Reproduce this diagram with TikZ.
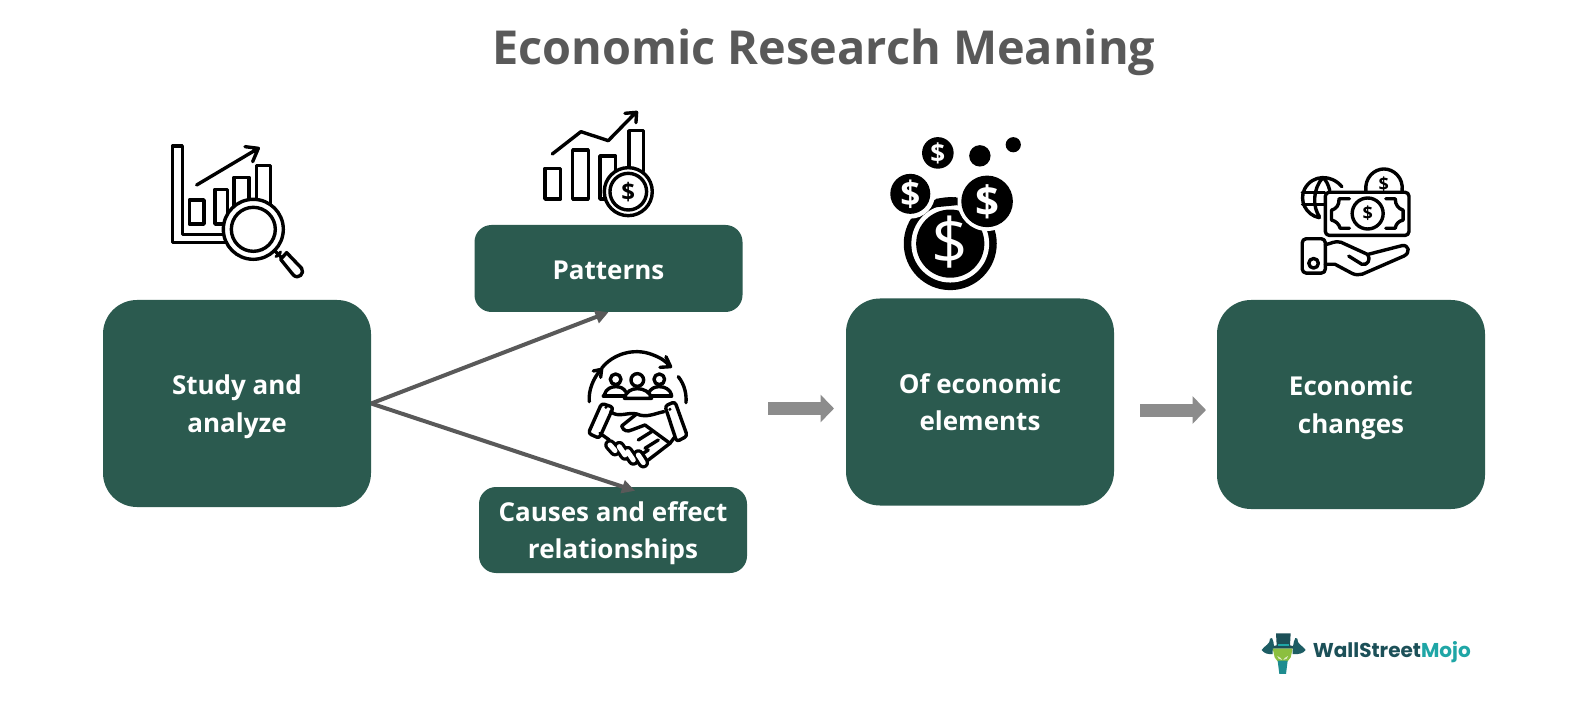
\documentclass[tikz,border=0pt]{standalone}
\usepackage{fontspec}
\setmainfont{Open Sans}
\newfontfamily\logofont{Poppins}
\usetikzlibrary{arrows.meta,calc}
\definecolor{boxgreen}{HTML}{2B5A4F}
\definecolor{titlegrey}{HTML}{595959}
\definecolor{linegrey}{HTML}{595959}
\definecolor{widegrey}{HTML}{8C8C8C}
\definecolor{logodark}{HTML}{1C5058}
\definecolor{logoteal}{HTML}{1FA6A6}
\definecolor{logogreen}{HTML}{8CBF3F}
\tikzset{
  boxtext/.style={text=white,align=center,inner sep=0pt,font=\fontsize{26}{37.5}\selectfont\bfseries,yshift=-3pt},
  bigbox/.style={fill=boxgreen,rounded corners=34pt,minimum width=268pt,minimum height=207pt,inner sep=0pt},
  smallbox/.style={fill=boxgreen,rounded corners=17pt,minimum width=268pt,minimum height=87pt,inner sep=0pt},
  thinarrow/.style={draw=linegrey,line width=4pt,-{Triangle[length=13pt,width=13pt]}},
  widearrow/.style={draw=widegrey,line width=13pt,-{Triangle[length=13.5pt,width=27pt]}},
  ink/.style={draw=black,line width=3.4pt,line cap=round,line join=round},
  zoomA/.style={shift={(150,100)},x=0.3333pt,y=-0.3333pt},
  zoomB/.style={shift={(360,290)},x=0.3333pt,y=-0.3333pt},
  zoomC/.style={shift={(870,121.8)},x=0.3444pt,y=-0.3275pt},
  zoomD/.style={shift={(1240,620)},x=0.3333pt,y=-0.3333pt},
  finger/.style={line width=11.5pt,draw=black,line cap=round},
  fingerin/.style={line width=5pt,draw=white,line cap=round},
  dollar/.style={inner sep=0pt,font=\fontsize{#1}{#1}\selectfont\bfseries}
}
\begin{document}
\begin{tikzpicture}[x=1pt,y=-1pt]
\useasboundingbox (0,0) rectangle (1588,719);
\fill[white] (0,0) rectangle (1588,719);
\node[inner sep=0pt,text=titlegrey,font=\fontsize{46.8}{50}\selectfont\bfseries] (title) at (824,52) {Economic Research Meaning};

\node[bigbox,label={[boxtext]center:Study and\\analyze}] (study) at (237,403.5) {};
\node[smallbox,label={[boxtext,yshift=1.5pt]center:Patterns}] (patterns) at (608.5,268.5) {};
\node[smallbox,minimum height=86pt,label={[boxtext]center:Causes and effect\\relationships}] (causes) at (613,530) {};
\node[bigbox,label={[boxtext,yshift=3pt]center:Of economic\\elements}] (elements) at (980,402) {};
\node[bigbox,minimum height=209pt,label={[boxtext]center:Economic\\changes}] (changes) at (1351,404.5) {};

\coordinate (causestip) at ($(causes.north)+(22,4)$);
\draw[thinarrow] (study.east) -- (patterns.south);
\draw[thinarrow] (study.east) -- (causestip);
\coordinate (w1a) at (768,408.5);
\coordinate (w1b) at (834,408.5);
\coordinate (w2a) at (1140,410);
\coordinate (w2b) at (1206,410);
\draw[widearrow] (w1a) -- (w1b);
\draw[widearrow] (w2a) -- (w2b);

% icon 1 and icon 2
\begin{scope}[zoomA]
  \draw[ink] (68,138) -- (97,138) -- (97,403) -- (240,403) (68,138) -- (68,428) -- (240,428);
  \draw[ink] (118,300) rectangle (162,372);
  \draw[ink] (195,268) rectangle (232,372);
  \draw[ink] (252,232) rectangle (297,320);
  \draw[ink] (320,197) rectangle (362,320);
  \draw[ink] (140,255) -- (325,145) (285,140) -- (325,145) -- (308,185);
  \draw[ink,fill=white] (310,388) circle (90);
  \draw[ink] (310,388) circle (66);
  \draw[ink] (372,450) -- (395,473);
  \draw[ink,line width=3pt] (378,470) -- (392,456);
  \draw[ink,fill=white] (392,478) -- (410,458) -- (455,505) .. controls (465,520) and (445,540) .. (430,525) -- cycle;

  \draw[ink] (1185,205) rectangle (1232,297);
  \draw[ink] (1268,150) rectangle (1315,297);
  \draw[ink] (1350,168) -- (1397,168) -- (1397,297) -- (1350,297) -- cycle;
  \draw[ink] (1437,92) rectangle (1480,215);
  \draw[ink] (1207,162) -- (1293,95) -- (1375,122) -- (1455,40) (1425,40) -- (1460,37) -- (1458,68);
  \draw[ink,fill=white] (1435,275) circle (72);
  \draw[ink] (1435,275) circle (55);
  \node[dollar=24] (d1) at (1435,275) {\$};
\end{scope}

% handshake
\begin{scope}[zoomB]
  \draw[ink] (725,235) .. controls (755,195) and (820,170) .. (880,195) .. controls (905,205) and (920,215) .. (930,230);
  \draw[ink] (918,200) -- (932,230) -- (900,232);
  \draw[ink] (688,335) .. controls (685,300) and (700,265) .. (722,240);
  \draw[ink] (700,243) -- (725,238) -- (722,262);
  \draw[ink] (955,260) .. controls (975,285) and (980,315) .. (978,338);
  \draw[ink] (767,268) circle (16) (832,270) circle (19) (898,268) circle (16);
  \draw[ink] (730,318) -- (935,318);
  \draw[ink] (733,315) .. controls (738,295) and (755,290) .. (768,290) .. controls (780,290) and (792,295) .. (797,305);
  \draw[ink] (868,305) .. controls (875,295) and (885,290) .. (898,290) .. controls (915,290) and (930,298) .. (935,315);
  \draw[ink,fill=white] (793,325) .. controls (797,305) and (815,296) .. (832,296) .. controls (850,296) and (870,305) .. (875,325) -- cycle;
  \draw[ink,rounded corners=3pt] (725,340) -- (760,352) -- (718,445) -- (685,430) -- cycle;
  \draw[ink,rounded corners=3pt] (915,348) -- (945,335) -- (982,438) -- (950,455) -- cycle;
  \fill (738,352) circle (5) (930,358) circle (5);
  \draw[ink] (752,365) .. controls (775,385) and (805,365) .. (830,372) .. controls (860,385) and (885,370) .. (912,365);
  \draw[ink] (830,372) -- (785,408) .. controls (790,425) and (805,425) .. (815,420) -- (855,405) -- (930,460);
  \draw[ink] (720,430) -- (748,450);
  \draw[ink] (945,440) -- (930,460) -- (895,487) -- (865,510);
  \draw[ink] (835,450) -- (875,425) (855,475) -- (895,450) (838,498) -- (865,480);
  \draw[finger] (750,465) -- (765,482) (778,470) -- (795,495) (803,485) -- (820,510) (835,495) -- (850,518);
  \draw[fingerin] (750,465) -- (765,482) (778,470) -- (795,495) (803,485) -- (820,510) (835,495) -- (850,518);
\end{scope}

% coins
\begin{scope}[zoomC]
  \fill (197,95) circle (15.8pt) (319,104) circle (10.7pt) (416,70) circle (7.6pt);
  \node[dollar=26,text=white] (d2) at (197,95) {\$};
  \fill (233,372) circle (46.5pt);
  \fill[white] (233,372) circle (38.9pt);
  \fill (233,372) circle (34.1pt);
  \node[inner sep=0pt,text=white,font=\fontsize{64}{64}\selectfont] (d3) at (233,368) {\$};
  \fill[white] (117,220) circle (24.8pt) (340,243) circle (29.6pt);
  \fill (117,220) circle (20pt) (340,243) circle (25.8pt);
  \node[dollar=35,text=white] (d4) at (117,220) {\$};
  \node[dollar=42,text=white] (d5) at (340,243) {\$};
  \fill[black] (180,262) -- (192,235) -- (250,230) -- (250,255) -- cycle;

  % globe and bill in hand
  \draw[ink] (1370,198) .. controls (1340,160) and (1285,160) .. (1262,205) .. controls (1245,240) and (1265,285) .. (1305,293);
  \draw[ink] (1255,215) -- (1320,215) (1256,252) -- (1320,252);
  \draw[ink] (1315,170) .. controls (1285,205) and (1285,260) .. (1305,290);
  \draw[ink] (1315,170) .. controls (1325,180) and (1330,190) .. (1335,210);
  \draw[ink] (1440,212) .. controls (1435,170) and (1465,144) .. (1492,144) .. controls (1520,144) and (1550,170) .. (1545,212);
  \node[dollar=18] (d6) at (1492,192) {\$};
  \draw[ink,fill=white,rounded corners=4pt] (1322,215) rectangle (1565,347);
  \draw[ink] (1392,235) -- (1362,235) .. controls (1362,255) and (1355,265) .. (1340,270) -- (1340,300) .. controls (1352,303) and (1362,312) .. (1365,325) -- (1392,325);
  \draw[ink] (1498,235) -- (1525,235) .. controls (1525,255) and (1535,265) .. (1548,270) -- (1548,300) .. controls (1535,303) and (1527,312) .. (1525,325) -- (1498,325);
  \draw[ink] (1445,280) circle (15.5pt);
  \node[dollar=18] (d7) at (1445,280) {\$};
  \draw[ink,rounded corners=4pt] (1255,357) rectangle (1322,462);
  \draw[ink] (1288,432) circle (4.8pt);
  \draw[ink] (1322,375) .. controls (1340,372) and (1350,362) .. (1368,368) -- (1445,405) -- (1545,378) .. controls (1565,375) and (1570,400) .. (1550,410) -- (1430,465) .. controls (1420,468) and (1410,468) .. (1400,463) -- (1350,435) -- (1322,435);
  \draw[ink] (1390,410) -- (1428,435) .. controls (1445,440) and (1455,420) .. (1445,405);
\end{scope}

% logo
\begin{scope}[zoomD]
  \fill[logodark] (108,40) -- (152,40) -- (150,76) -- (166,80) -- (164,86) -- (94,86) -- (90,80) -- (110,76) -- cycle;
  \fill[logoteal] (114,72) rectangle (146,79);
  \fill[logodark!85!logoteal] (65,90) .. controls (72,78) and (92,72) .. (90,56) -- (96,54) .. controls (104,70) and (102,82) .. (98,92) -- (98,102) .. controls (85,104) and (72,100) .. (65,90) -- cycle;
  \fill[logodark!85!logoteal] (197,90) .. controls (190,78) and (170,72) .. (172,56) -- (166,54) .. controls (158,70) and (160,82) .. (158,92) -- (158,102) .. controls (177,104) and (190,100) .. (197,90) -- cycle;
  \fill[logogreen] (98,86) -- (158,86) -- (152,112) -- (143,124) -- (113,124) -- (104,112) -- cycle;
  \fill[logoteal!70!logodark] (113,122) -- (143,122) -- (138,162) -- (118,162) -- cycle;
  \fill[white!70!logogreen] (112,108) -- (122,114) -- (126,120) -- (116,116) -- cycle (144,108) -- (134,114) -- (130,120) -- (140,116) -- cycle;
  \node[inner sep=0pt,anchor=west,font=\logofont\fontsize{20}{22}\selectfont\bfseries] (logotext) at (218,97) {\textcolor{logodark}{WallStreet}\textcolor{logoteal}{Mojo}};
\end{scope}
\end{tikzpicture}
\end{document}
